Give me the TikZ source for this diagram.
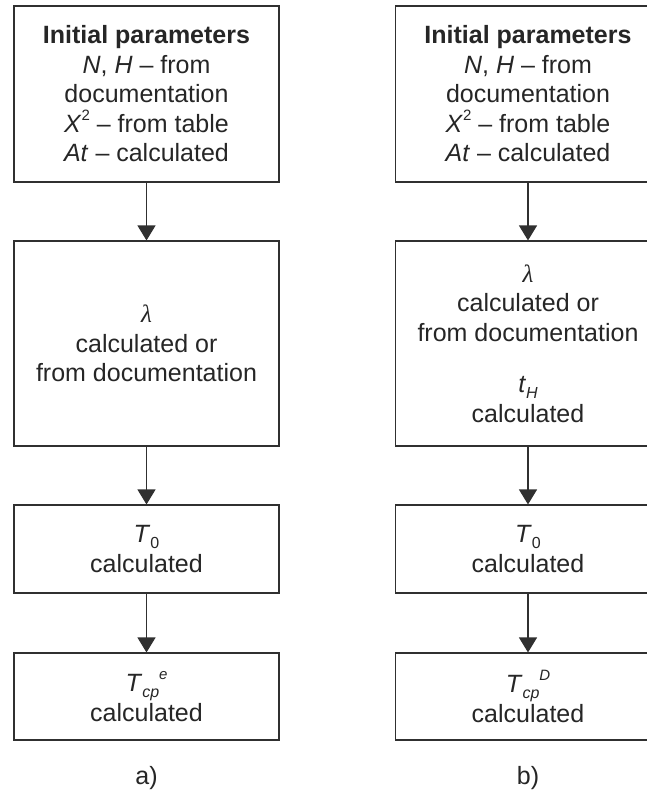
\documentclass[tikz,border=0pt]{standalone}
\usepackage{fontspec}
\setmainfont{Liberation Sans}
\newfontfamily\lamfont{Liberation Serif}
\usetikzlibrary{arrows.meta}
\newcommand\sbx[1]{\raisebox{-0.22em}{\fontsize{16}{16}\selectfont #1}}
\newcommand\spx[1]{\raisebox{0.48em}{\fontsize{15}{15}\selectfont #1}}
\newcommand\lam{{\lamfont\itshape λ}}
\definecolor{linec}{HTML}{303030}
\definecolor{textc}{HTML}{262626}
\begin{document}
\begin{tikzpicture}[x=1pt,y=-1pt,
  box/.style={draw=linec, line width=1.1pt, minimum width=265pt, align=center,
    inner sep=0pt, text=textc, font=\fontsize{25}{29.5}\selectfont},
  arr/.style={draw=linec, line width=1.1pt, -{Triangle[width=18pt,length=15pt]}},
  lbl/.style={text=textc, font=\fontsize{25}{29.5}\selectfont, inner sep=0pt}]
\useasboundingbox (0,0) rectangle (647,798);
\clip (0,0) rectangle (647,798);
\fill[white] (0,0) rectangle (647,798);

% column a
\node[box, minimum height=176pt] (a1) at (146.5,94)
  {\textbf{Initial parameters}\\ \textit{N}, \textit{H} – from\\ documentation\\ \textit{X}\spx{2} – from table\\ \textit{At} – calculated};
\node[box, minimum height=205pt] (a2) at (146.5,343.5)
  {\lam\\ calculated or\\ from documentation};
\node[box, minimum height=88pt] (a3) at (146.5,549)
  {\textit{T}\sbx{0}\\ calculated};
\node[box, minimum height=87pt] (a4) at (146.5,696.5)
  {\textit{T}\sbx{\textit{cp}}\spx{\textit{e}}\\ calculated};
\node[lbl] (la) at (146.5,778) {a)};

\draw[arr] (a1) -- (a2);
\draw[arr] (a2) -- (a3);
\draw[arr] (a3) -- (a4);

% column b
\node[box, minimum height=176pt] (b1) at (528,94)
  {\textbf{Initial parameters}\\ \textit{N}, \textit{H} – from\\ documentation\\ \textit{X}\spx{2} – from table\\ \textit{At} – calculated};
\node[box, minimum height=205pt] (b2) at (528,343.5)
  {\lam\\ calculated or\\ from documentation\\[22pt] \textit{t}\sbx{\textit{H}}\\ calculated};
\node[box, minimum height=88pt] (b3) at (528,549)
  {\textit{T}\sbx{0}\\ calculated};
\node[box, minimum height=87pt] (b4) at (528,696.5)
  {\textit{T}\sbx{\textit{cp}}\spx{\textit{D}}\\ calculated};
\node[lbl] (lb) at (528,778) {b)};

\draw[arr] (b1) -- (b2);
\draw[arr] (b2) -- (b3);
\draw[arr] (b3) -- (b4);
\end{tikzpicture}
\end{document}
